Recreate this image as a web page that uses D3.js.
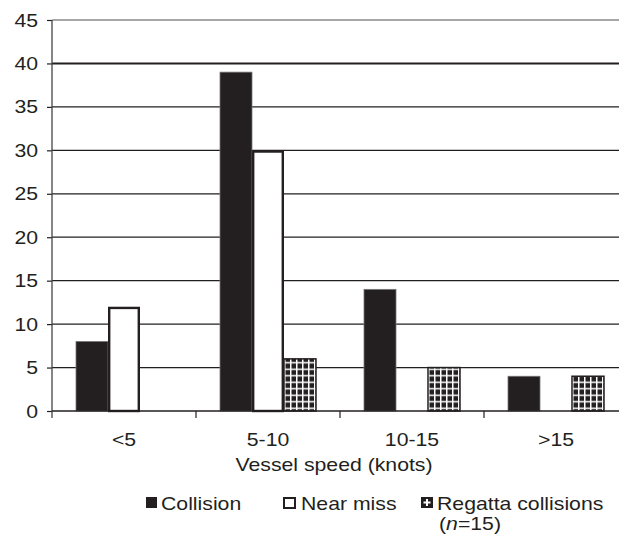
<!DOCTYPE html>
<html><head><meta charset="utf-8">
<script src="https://cdn.jsdelivr.net/npm/d3@7"></script>
<style>body{margin:0;background:#fff}svg{display:block}text{font-family:"Liberation Sans",Arial,sans-serif;fill:#231f20}</style>
</head><body>
<svg id="c" width="619" height="534"></svg>
<script>
const categories = ["<5", "5-10", "10-15", ">15"];
const collision = [8, 39, 14, 4];
const nearMiss = [12, 30, 0, 0];
const regatta = [0, 6, 5, 4];
const yTicks = [0, 5, 10, 15, 20, 25, 30, 35, 40, 45];
const seriesNames = ["Collision", "Near miss", "Regatta collisions"];

const svg = d3.select("#c");
const ink = "#231f20";
const SX = 1.18;
function txt(parent, x, y, s, anchor){
  const g = parent.append("g").attr("transform",`translate(${x},${y}) scale(${SX},1)`);
  const t = g.append("text").attr("x",0).attr("y",0).style("font-size","18px").attr("text-anchor",anchor||"start");
  if(s!==null) t.text(s);
  return t;
}
const defs = svg.append("defs");
const pat = defs.append("pattern").attr("id","grid").attr("patternUnits","userSpaceOnUse")
  .attr("width",6).attr("height",6.5).attr("x",0).attr("y",2);
pat.append("rect").attr("width",6).attr("height",6.5).attr("fill",ink);
pat.append("rect").attr("x",2).attr("y",0).attr("width",1.5).attr("height",6.5).attr("fill","#fff");
pat.append("rect").attr("x",0).attr("y",2.5).attr("width",6).attr("height",1.5).attr("fill","#fff");

const x0 = d3.scaleBand().domain(categories).range([52, 628]).paddingInner(0).paddingOuter(0);
const x1 = d3.scaleBand().domain([0,1,2]).range([0, x0.bandwidth()]).paddingOuter(0.75).paddingInner(0);
const y = d3.scaleLinear().domain([0,45]).range([411,20]);

// gridlines
svg.append("g").selectAll("line").data(yTicks.filter(d=>d>0)).join("line")
  .attr("x1",52).attr("x2",619).attr("y1",d=>y(d)).attr("y2",d=>y(d))
  .attr("stroke",d=>d===45?"#8a8a8a":ink).attr("stroke-width",d=>d===40?2:1.3);

// bars
const data = categories.map((c,i)=>({c, v:[collision[i], nearMiss[i], regatta[i]]}));
const g = svg.append("g");
data.forEach(d=>{
  d.v.forEach((v,k)=>{
    if(v<=0) return;
    const bx = x0(d.c)+x1(k), bw = x1.bandwidth();
    if(k===0){
      g.append("rect").attr("x",bx).attr("y",y(v)).attr("width",bw).attr("height",y(0)-y(v))
        .attr("fill",ink).attr("stroke","#777").attr("stroke-width",0.8);
    } else if(k===1){
      g.append("rect").attr("x",bx+1.2).attr("y",y(v)+1.2).attr("width",bw-2.4).attr("height",y(0)-y(v)-1.2)
        .attr("fill","#fff").attr("stroke",ink).attr("stroke-width",2.4);
    } else {
      g.append("rect").attr("x",bx).attr("y",y(v)).attr("width",bw).attr("height",y(0)-y(v))
        .attr("fill","url(#grid)").attr("stroke",ink).attr("stroke-width",1.5);
    }
  });
});

// y axis
const ya = svg.append("g").attr("transform","translate(52,0)")
  .call(d3.axisLeft(y).tickValues(yTicks).tickSize(5).tickFormat(""));
ya.select(".domain").remove();
ya.selectAll(".tick line").attr("stroke",ink).attr("stroke-width",1.2);
yTicks.forEach(v=>{ txt(svg, 38, y(v)+6.5, String(v), "end"); });
svg.append("line").attr("x1",52).attr("x2",52).attr("y1",20).attr("y2",418).attr("stroke","#444").attr("stroke-width",1.3);

// x axis
svg.append("line").attr("x1",52).attr("x2",619).attr("y1",y(0)).attr("y2",y(0)).attr("stroke",ink).attr("stroke-width",1.3);
svg.append("g").selectAll("line").data(categories.slice(1)).join("line")
  .attr("x1",d=>x0(d)).attr("x2",d=>x0(d)).attr("y1",y(0)).attr("y2",418).attr("stroke",ink).attr("stroke-width",1.2);
categories.forEach(c=>{ txt(svg, x0(c)+x0.bandwidth()/2, 446, c, "middle"); });
txt(svg, 334, 471, "Vessel speed (knots)", "middle");

// legend
const leg = [{x:146, t:seriesNames[0]},{x:283, t:seriesNames[1]},{x:421, t:seriesNames[2]}];
leg.forEach((l,k)=>{
  if(k===0) svg.append("rect").attr("x",l.x).attr("y",497).attr("width",11).attr("height",11).attr("fill",ink);
  else if(k===1) svg.append("rect").attr("x",l.x+1).attr("y",498).attr("width",11).attr("height",10).attr("fill","#fff").attr("stroke",ink).attr("stroke-width",2);
  else {
    svg.append("rect").attr("x",l.x).attr("y",497).attr("width",12).attr("height",11).attr("fill",ink);
    svg.append("rect").attr("x",l.x+5).attr("y",499).attr("width",2).attr("height",7).attr("fill","#fff");
    svg.append("rect").attr("x",l.x+2.5).attr("y",501.5).attr("width",7).attr("height",2).attr("fill","#fff");
  }
  txt(svg, l.x+(k===0?15:k===1?18:16), 510, l.t);
});
const nt = txt(svg, 439, 530, null);
nt.append("tspan").text("(");
nt.append("tspan").style("font-style","italic").text("n");
nt.append("tspan").text("=15)");
</script>
</body></html>
